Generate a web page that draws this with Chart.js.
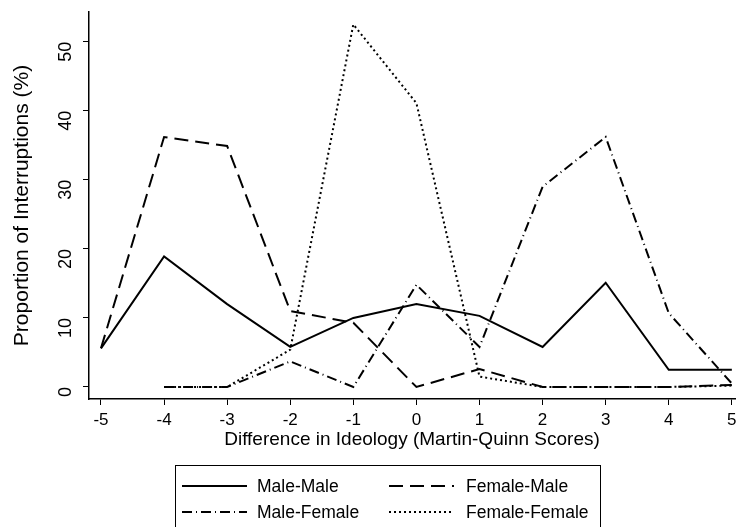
<!DOCTYPE html>
<html>
<head>
<meta charset="utf-8">
<script src="https://cdn.jsdelivr.net/npm/chart.js@4"></script>
<style>
  html, body { margin: 0; padding: 0; background: #fff; }
  #wrap { width: 736px; height: 527px; }
</style>
</head>
<body>
<div id="wrap"><canvas id="c" width="736" height="527"></canvas></div>
<script>
// ideology differences
var xValues = [-5, -4, -3, -2, -1, 0, 1, 2, 3, 4, 5]
var xTicks = [-5, -4, -3, -2, -1, 0, 1, 2, 3, 4, 5]
var yTicks = [0, 10, 20, 30, 40, 50]

var maleMale = [5.6, 18.9, 12.0, 5.8, 10.0, 12.0, 10.3, 5.8, 15.1, 2.5, 2.5]
var femaleMale = [5.6, 36.2, 34.9, 11.0, 9.3, 0, 2.6, 0, 0, 0, 0.3]
var maleFemale = [null, 0, 0, 3.7, 0, 14.8, 5.8, 29.0, 36.2, 10.7, 0.5]
var femaleFemale = [null, 0, 0, 5.4, 52.5, 41.1, 1.5, 0, 0, 0, 0.2]

var FONT = "'Liberation Sans', Arial, Helvetica, sans-serif"

function pts(arr) {
    var out = []
    for (var i = 0; i < xValues.length; i++) {
        if (arr[i] !== null) out.push({x: xValues[i], y: arr[i]})
    }
    return out
}

function mkSet(label, arr, dash) {
    return {
        label: label,
        data: pts(arr),
        borderColor: '#000',
        borderWidth: 2,
        borderDash: dash,
        pointRadius: 0,
        fill: false,
        tension: 0
    }
}

// stata-ish legend box, two columns
var legendBox = {
    id: 'legendBox',
    afterDraw(chart) {
        var ctx = chart.ctx
        ctx.save()
        ctx.strokeStyle = '#000'
        ctx.lineWidth = 1
        ctx.setLineDash([])
        ctx.strokeRect(175.5, 465.5, 425, 80)
        var cols = [[182, 247, 257], [389, 454, 466]]
        var rows = [486, 512]
        ctx.font = '17.5px ' + FONT
        ctx.textBaseline = 'middle'
        ctx.fillStyle = '#000'
        chart.data.datasets.forEach(function(ds, i) {
            var c = cols[i % 2], r = rows[Math.floor(i / 2)]
            ctx.lineWidth = ds.borderWidth
            ctx.setLineDash(ds.borderDash || [])
            ctx.beginPath()
            ctx.moveTo(c[0], r)
            ctx.lineTo(c[1], r)
            ctx.stroke()
            ctx.setLineDash([])
            ctx.fillText(ds.label, c[2], r + 1)
        })
        ctx.restore()
    }
}

var chart = new Chart(document.getElementById('c'), {
    type: 'line',
    data: {
        datasets: [
            mkSet('Male-Male', maleMale, []),
            mkSet('Female-Male', femaleMale, [14, 7]),
            mkSet('Male-Female', maleFemale, [10, 4, 1, 4]),
            mkSet('Female-Female', femaleFemale, [2, 3])
        ]
    },
    options: {
        responsive: false,
        animation: false,
        layout: { padding: { top: 12, right: 1, bottom: 76, left: 0 } },
        plugins: { legend: { display: false }, tooltip: { enabled: false } },
        scales: {
            x: {
                type: 'linear',
                min: -5.19,
                max: 5.05,
                afterBuildTicks: function(s) { s.ticks = xTicks.map(function(v) { return {value: v} }) },
                afterFit: function(s) { s.height = 52; s.paddingLeft = 0; s.paddingRight = 0 },
                grid: { display: true, drawOnChartArea: false, drawTicks: true, tickLength: 6, color: '#000', lineWidth: 1 },
                border: { display: true, color: '#000', width: 1.5 },
                ticks: { color: '#000', font: { family: FONT, size: 17 }, padding: 5, maxRotation: 0, autoSkip: false },
                title: { display: true, text: 'Difference in Ideology (Martin-Quinn Scores)', color: '#000', font: { family: FONT, size: 19 }, padding: { top: 3, bottom: 0 } }
            },
            y: {
                type: 'linear',
                min: -1.74,
                max: 54.3,
                afterBuildTicks: function(s) { s.ticks = yTicks.map(function(v) { return {value: v} }) },
                afterFit: function(s) { s.width = 89; s.paddingTop = 0; s.paddingBottom = 0 },
                grid: { display: true, drawOnChartArea: false, drawTicks: true, tickLength: 6, color: '#000', lineWidth: 1 },
                border: { display: true, color: '#000', width: 1.5 },
                ticks: { color: '#000', font: { family: FONT, size: 18 }, padding: 17, minRotation: 90, maxRotation: 90, autoSkip: false },
                title: { display: true, text: 'Proportion of Interruptions (%)', color: '#000', font: { family: FONT, size: 21 }, padding: { top: 10, bottom: 0 } }
            }
        }
    },
    plugins: [legendBox]
})
</script>
</body>
</html>
